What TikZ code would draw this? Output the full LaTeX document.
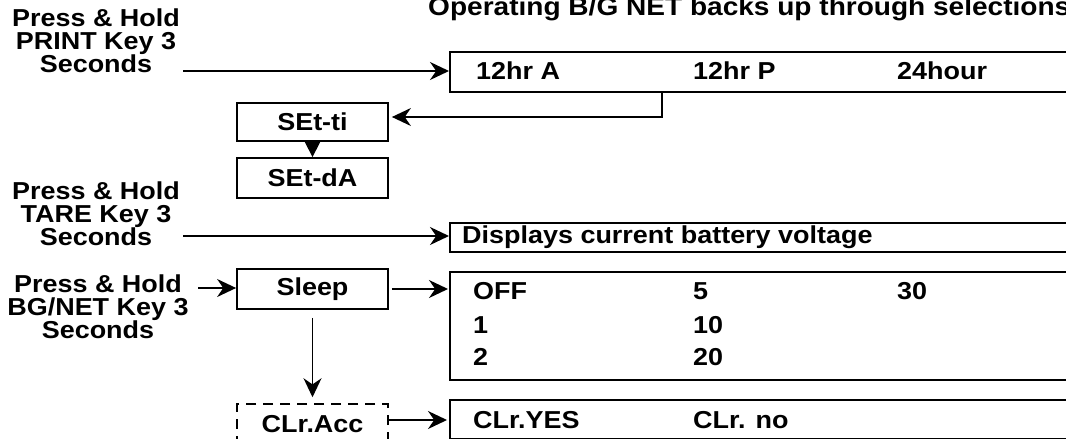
\documentclass[tikz,border=0pt]{standalone}
\usepackage{fontspec}
\setmainfont{Liberation Sans}[BoldFont={* Bold}, FakeStretch=1.1]
\usepackage{tikz}
\usetikzlibrary{arrows.meta,positioning,calc}
\newcommand{\keyfont}{\fontsize{24.5}{23}\selectfont\bfseries}

\begin{document}
\begin{tikzpicture}[x=1pt,y=-1pt,
  font=\keyfont,
  keybox/.style={draw, line width=1.8pt, minimum width=151pt, minimum height=40pt, inner sep=0pt},
  listbox/.style={draw, line width=1.8pt, anchor=north west, minimum width=660pt, inner sep=0pt},
  entry/.style={anchor=base west, inner sep=0pt},
  presslabel/.style={align=center, inner sep=0pt, anchor=north},
  flow/.style={-{Stealth[length=19pt,width=18pt]}, line width=1.5pt},
  tip/.style={-{Triangle[length=17pt,width=17pt]}, line width=1.5pt}]
  \useasboundingbox (0,0) rectangle (1066,439);
  \clip (0,0) rectangle (1066,439);

  % Titel
  \node[entry, font=\fontsize{25.5}{25}\selectfont\bfseries] (title) at (428,16) {Operating B/G NET backs up through selections};

  % Tasten
  \node[presslabel] (print) at (96,9) {Press \& Hold\\PRINT Key 3\\Seconds};
  \node[presslabel] (tare) at (96,182) {Press \& Hold\\TARE Key 3\\Seconds};
  \node[presslabel] (bgnet) at (98,275) {Press \& Hold\\BG/NET Key 3\\Seconds};
  \coordinate (printend) at (183,71);
  \coordinate (tareend) at (183,236);
  \coordinate (bgnetend) at (198,288);

  % Anzeigen
  \node[listbox, minimum height=40pt] (timebox) at (449,51) {};
  \node[listbox, minimum height=29pt] (voltbox) at (449,222) {};
  \node[listbox, minimum height=108pt] (sleepbox) at (449,271) {};
  \node[listbox, minimum height=39pt] (clrbox) at (449,399) {};

  \node[entry] (t1) at (476,79) {12hr A};
  \node[entry] (t2) at (693,79) {12hr P};
  \node[entry] (t3) at (897,79) {24hour};
  \node[entry] (volt) at (462,243) {Displays current battery voltage};
  \foreach \a/\b/\y [count=\i] in {OFF/5/299, 1/10/333, 2/20/365} {
    \node[entry] (sa\i) at (473,\y) {\a};
    \node[entry] (sb\i) at (693,\y) {\b};
  }
  \node[entry] (s30) at (897,299) {30};
  \node[entry] (cyes) at (473,428) {CLr.YES};
  \node[entry] (cno) at (693,428) {CLr. no};

  % Menuepunkte
  \node[keybox, minimum height=38pt] (seti) at (312.5,122) {SEt-ti};
  \node[keybox] (setda) at (312.5,178) {SEt-dA};
  \node[keybox] (sleep) at (312.5,289) {Sleep};
  \node[keybox, dashed, dash pattern=on 10pt off 7pt, line width=1.5pt] (clracc) at (312.5,424) {CLr.Acc};

  % Pfeile
  \draw[flow] (printend) -- (printend -| timebox.west);
  \draw[flow] (tareend) -- (tareend -| voltbox.west);
  \draw[flow] (bgnetend) -- (bgnetend -| sleep.west);
  \draw[flow] ([xshift=213pt]timebox.south west) |- ([xshift=3pt,yshift=5pt]seti.east);
  \draw[tip] (seti) -- (setda);
  \draw[flow, shorten <=3pt] (sleep.east) -- ([xshift=-1pt]sleep.east -| sleepbox.west);
  \draw[flow, shorten <=8pt, shorten >=6pt] (sleep) -- (clracc);
  \draw[flow] ([yshift=4pt]clracc.east) -- ([yshift=4pt,xshift=-2pt]clracc.east -| clrbox.west);
\end{tikzpicture}
\end{document}
